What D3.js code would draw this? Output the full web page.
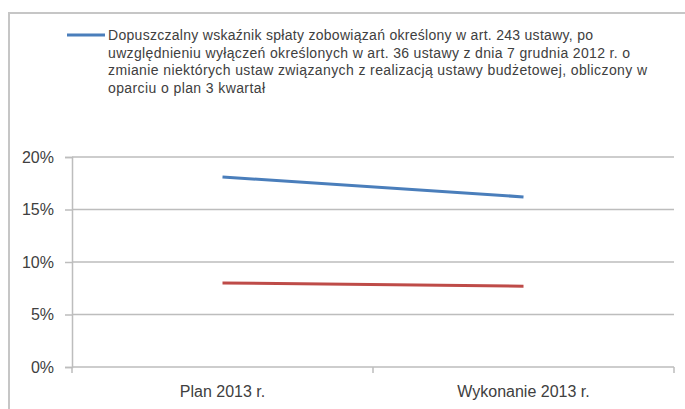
<!DOCTYPE html>
<meta charset="utf-8">
<style>

body {
  margin: 0;
  background: #fff;
}

text {
  font-family: "Liberation Sans", Arial, sans-serif;
  fill: #404040;
}

.grid line {
  stroke: #bdbdbd;
  stroke-width: 1.5px;
}

</style>
<body>
</body>
<script src="https://cdnjs.cloudflare.com/ajax/libs/d3/7.8.5/d3.min.js"></script>
<script>

var categories = ["Plan 2013 r.", "Wykonanie 2013 r."];
var dopuszczalny = [0.181, 0.162];
var planowany = [0.080, 0.077];
var yTicks = [0, 0.05, 0.10, 0.15, 0.20];
var legendLines = [
  "Dopuszczalny wskaźnik  spłaty zobowiązań określony w art. 243 ustawy, po",
  "uwzględnieniu wyłączeń określonych w art. 36 ustawy z dnia 7 grudnia 2012 r. o",
  "zmianie niektórych ustaw związanych z realizacją ustawy  budżetowej, obliczony w",
  "oparciu o plan 3 kwartał"
];
var legendWidths = [485, 522, 539, 157];

var w = 685,
    h = 409,
    plotLeft = 72,
    plotRight = 674,
    plotTop = 157,
    plotBottom = 367;

var svg = d3.select("body").append("svg")
    .attr("width", w)
    .attr("height", h);

// chart frame, runs off the picture right and bottom
svg.append("rect")
    .attr("x", 9)
    .attr("y", 13)
    .attr("width", 700)
    .attr("height", 420)
    .attr("fill", "#fff")
    .attr("stroke", "#c6c6c6")
    .attr("stroke-width", 2);

var x = d3.scaleBand()
    .domain(categories)
    .range([plotLeft, plotRight])
    .padding(0);

var y = d3.scaleLinear()
    .domain([0, 0.2])
    .range([plotBottom, plotTop]);

function cx(d) { return x(d) + x.bandwidth() / 2; }

// gridlines
svg.append("g")
    .attr("class", "grid")
  .selectAll("line")
    .data(yTicks.slice(1))
  .enter().append("line")
    .attr("x1", plotLeft)
    .attr("x2", plotRight)
    .attr("y1", y)
    .attr("y2", y);

// y axis
var yAxis = svg.append("g")
    .attr("transform", "translate(" + plotLeft + ",0)")
    .call(d3.axisLeft(y).tickValues(yTicks).tickFormat(d3.format(".0%")).tickSize(7).tickPadding(11));
yAxis.select(".domain").attr("stroke", "#bdbdbd").attr("stroke-width", 1.5);
yAxis.selectAll(".tick line").attr("stroke", "#bdbdbd").attr("stroke-width", 1.5);
yAxis.selectAll(".tick text")
    .attr("fill", "#404040")
    .style("font-size", "16px");

// x axis with ticks at band edges
var xEdges = categories.map(function(d) { return x(d); }).concat([plotRight]);
var xAxis = svg.append("g");
xAxis.append("line")
    .attr("x1", plotLeft)
    .attr("x2", plotRight)
    .attr("y1", plotBottom)
    .attr("y2", plotBottom)
    .attr("stroke", "#bdbdbd")
    .attr("stroke-width", 1.5);
xAxis.selectAll(".edge")
    .data(xEdges)
  .enter().append("line")
    .attr("x1", function(d) { return d; })
    .attr("x2", function(d) { return d; })
    .attr("y1", plotBottom)
    .attr("y2", plotBottom + 6)
    .attr("stroke", "#bdbdbd")
    .attr("stroke-width", 1.5);
xAxis.selectAll("text")
    .data(categories)
  .enter().append("text")
    .attr("x", cx)
    .attr("y", 397)
    .attr("text-anchor", "middle")
    .style("font-size", "16px")
    .text(function(d) { return d; });

// series
var line = d3.line()
    .x(function(d, i) { return cx(categories[i]); })
    .y(function(d) { return y(d); });

svg.append("path")
    .datum(dopuszczalny)
    .attr("d", line)
    .attr("fill", "none")
    .attr("stroke", "#4a7ebb")
    .attr("stroke-width", 3);

svg.append("path")
    .datum(planowany)
    .attr("d", line)
    .attr("fill", "none")
    .attr("stroke", "#be4b48")
    .attr("stroke-width", 3);

// legend
svg.append("line")
    .attr("x1", 67)
    .attr("x2", 105)
    .attr("y1", 35)
    .attr("y2", 35)
    .attr("stroke", "#4a7ebb")
    .attr("stroke-width", 3);

svg.selectAll(".legend")
    .data(legendLines)
  .enter().append("text")
    .attr("class", "legend")
    .attr("x", 108)
    .attr("y", function(d, i) { return 40 + i * 17.6; })
    .attr("textLength", function(d, i) { return legendWidths[i]; })
    .style("font-size", "14px")
    .text(function(d) { return d; });

</script>
